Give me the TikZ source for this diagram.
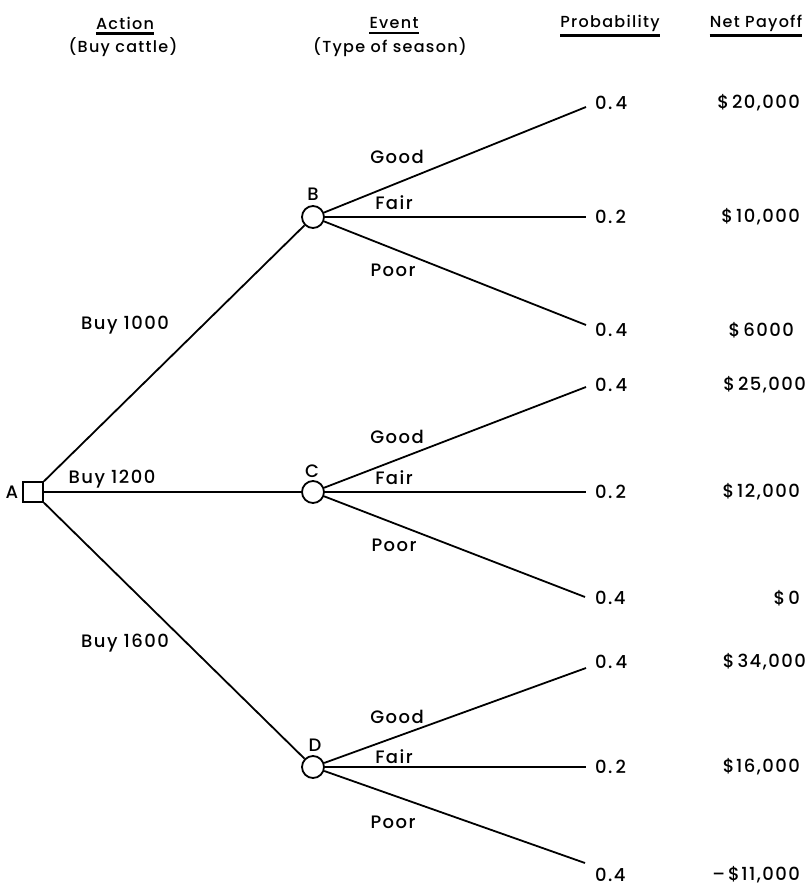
\documentclass[tikz,border=0pt]{standalone}
\usepackage{fontspec}
\setmainfont{Poppins}[UprightFont=* Medium,LetterSpace=8]
\begin{document}
\begin{tikzpicture}[x=1pt,y=-1pt,
  branch/.style={line width=1.8pt},
  chance/.style={circle,draw,line width=1.8pt,minimum size=22pt,inner sep=0pt},
  decision/.style={rectangle,draw,line width=1.8pt,minimum size=20pt,inner sep=0pt},
  txt/.style={font=\fontsize{18}{20}\selectfont,inner sep=0pt},
  head/.style={font=\fontsize{16}{19}\selectfont,inner sep=0pt},
  uline/.style={line width=2.4pt}
]
\useasboundingbox (0,0) rectangle (808,888);

% column headings
\node[head] (hA) at (125,23) {Action};
\node[head] (hA2) at (123,47) {(Buy cattle)};
\node[head] (hE) at (394,23) {Event};
\node[head] (hE2) at (390,47) {(Type of season)};
\node[head] (hP) at (610,23) {Probability};
\node[head] (hN) at (756,23) {Net Payoff};
\foreach \h in {hA,hE,hP,hN}
  \draw[uline] ([yshift=-4pt]\h.south west) -- ([yshift=-4pt]\h.south east);

% decision and chance nodes
\node[decision] (A) at (33,492) {};
\node[chance] (B) at (313,217) {};
\node[chance] (C) at (313,492) {};
\node[chance] (D) at (313,767) {};
\node[txt] (lA) at (12,492) {A};
\node[txt] (lB) at (313,194) {B};
\node[txt] (lC) at (312,471) {C};
\node[txt] (lD) at (315,745) {D};

% action branches
\draw[branch] (A) -- (B);
\draw[branch] (A) -- (C);
\draw[branch] (A) -- (D);
\node[txt] (a1) at (125,325) {Buy\ 1000};
\node[txt] (a2) at (112,479) {Buy\ 1200};
\node[txt] (a3) at (125,643) {Buy\ 1600};

% branch end points
\coordinate (Bg) at (586,107);
\coordinate (Bf) at (586,217);
\coordinate (Bp) at (586,325);
\coordinate (Cg) at (586,387);
\coordinate (Cf) at (586,492);
\coordinate (Cp) at (585,597);
\coordinate (Dg) at (586,668);
\coordinate (Df) at (586,767);
\coordinate (Dp) at (585,863);

\foreach \n in {B,C,D}{
  \draw[branch] (\n) -- (\n g);
  \draw[branch] (\n) -- (\n f);
  \draw[branch] (\n) -- (\n p);
}

% event labels
\node[txt] (gB) at (397,157) {Good};
\node[txt] (fB) at (394,203) {Fair};
\node[txt] (pB) at (393,270) {Poor};
\node[txt] (gC) at (397,437) {Good};
\node[txt] (fC) at (394,478) {Fair};
\node[txt] (pC) at (394,545) {Poor};
\node[txt] (gD) at (397,717) {Good};
\node[txt] (fD) at (394,757) {Fair};
\node[txt] (pD) at (393,822) {Poor};

% probabilities
\node[txt,anchor=west] (pr1) at (595,103) {0.\,4};
\node[txt,anchor=west] (pr2) at (595,217) {0.\,2};
\node[txt,anchor=west] (pr3) at (595,330) {0.\,4};
\node[txt,anchor=west] (pr4) at (595,385) {0.\,4};
\node[txt,anchor=west] (pr5) at (595,492) {0.\,2};
\node[txt,anchor=west] (pr6) at (595,598) {0.4};
\node[txt,anchor=west] (pr7) at (595,662) {0.\,4};
\node[txt,anchor=west] (pr8) at (595,767) {0.\,2};
\node[txt,anchor=west] (pr9) at (595,875) {0.4};

% net payoffs
\node[txt,anchor=east] (v1) at (800,103) {\$\,20,000};
\node[txt,anchor=east] (v2) at (800,217) {\$\,10,000};
\node[txt,anchor=east] (v3) at (794,330) {\$\,6000};
\node[txt,anchor=east] (v4) at (806,385) {\$\,25,000};
\node[txt,anchor=east] (v5) at (800,492) {\$\,12,000};
\node[txt,anchor=east] (v6) at (800,598) {\$\,0};
\node[txt,anchor=east] (v7) at (806,662) {\$\,34,000};
\node[txt,anchor=east] (v8) at (800,767) {\$16,000};
\node[txt,anchor=east] (v9) at (800,875) {\textendash\,\$11,000};
\end{tikzpicture}
\end{document}
